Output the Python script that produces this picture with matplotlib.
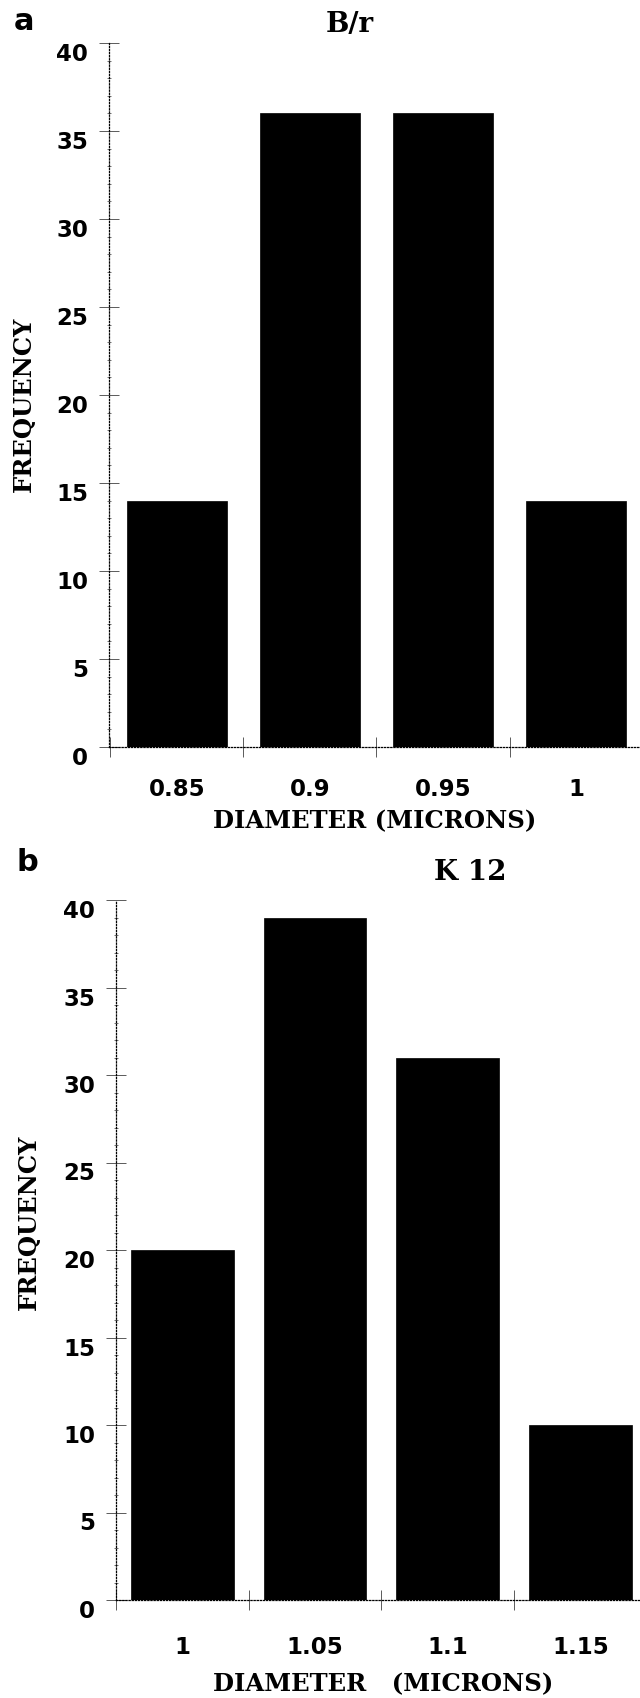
import matplotlib.pyplot as plt
from matplotlib.ticker import MultipleLocator

# Data
a_sizes = ["0.85", "0.9", "0.95", "1"]
a_freq = [14, 36, 36, 14]

b_sizes = ["1", "1.05", "1.1", "1.15"]
b_freq = [20, 39, 31, 10]

y_ticks = [0, 5, 10, 15, 20, 25, 30, 35, 40]

W, H = 640, 1698
fig = plt.figure(figsize=(W / 100, H / 100), dpi=100)


def px(x, y):
    # pixel position -> figure fraction
    return x / W, 1 - y / H


def draw_panel(rect, sizes, freq, bar_w, xlim, xlabel, xlabel_pos, ylabel_pos, xpad):
    ax = fig.add_axes(rect)
    pos = list(range(len(sizes)))
    ax.bar(pos, freq, width=bar_w, color="black", edgecolor="black", linewidth=0.5)

    ax.set_xlim(xlim)
    ax.set_ylim(0, 40)

    # dotted axes, no box
    for side in ["top", "right"]:
        ax.spines[side].set_visible(False)
    for side in ["left", "bottom"]:
        ax.spines[side].set_linestyle((0, (1, 1.5)))
        ax.spines[side].set_linewidth(0.9)

    # y ticks
    ax.set_yticks(y_ticks)
    ax.yaxis.set_minor_locator(MultipleLocator(1))
    ax.tick_params(axis="y", which="major", direction="inout", length=14, width=0.6,
                   pad=8, labelsize=16.5, color="0.25")
    ax.tick_params(axis="y", which="minor", direction="inout", length=3, width=0.6,
                   color="0.35")
    for lab in ax.get_yticklabels():
        lab.set_fontweight("bold")
        lab.set_va("top")

    # x ticks: labels under bars, crosses between bars
    ax.set_xticks(pos)
    ax.set_xticklabels(sizes, fontsize=16.5, fontweight="bold")
    ax.set_xticks([p - 0.5 for p in pos], minor=True)
    ax.tick_params(axis="x", which="major", length=0, pad=xpad)
    ax.tick_params(axis="x", which="minor", direction="inout", length=14, width=0.6,
                   color="0.25")

    ax.set_xlabel(xlabel, fontsize=17.5, fontweight="bold", family="DejaVu Serif", va="center")
    ax.xaxis.set_label_coords(*xlabel_pos)
    ax.set_ylabel("FREQUENCY", fontsize=17.5, fontweight="bold", family="DejaVu Serif", va="center")
    ax.yaxis.set_label_coords(*ylabel_pos)
    return ax


# panel a (B/r)
draw_panel([109 / W, 1 - 747 / H, 531 / W, 704 / H], a_sizes, a_freq, 0.75, (-0.51, 3.48),
           "DIAMETER (MICRONS)", (0.501, -0.105), (-0.16, 0.487), 22)
# panel b (K 12)
draw_panel([116 / W, 1 - 1600 / H, 524 / W, 700 / H], b_sizes, b_freq, 0.776, (-0.50, 3.45),
           "DIAMETER   (MICRONS)", (0.51, -0.121), (-0.166, 0.54), 26)

# titles and panel letters
fig.text(*px(350, 25), "B/r", fontsize=20, fontweight="bold", family="DejaVu Serif",
         ha="center", va="center")
fig.text(*px(470, 872), "K 12", fontsize=20, fontweight="bold", family="DejaVu Serif",
         ha="center", va="center")
fig.text(*px(24, 22), "a", fontsize=22, fontweight="bold", ha="center", va="center")
fig.text(*px(27, 862), "b", fontsize=22, fontweight="bold", ha="center", va="center")

plt.savefig("out.png", dpi=100)
